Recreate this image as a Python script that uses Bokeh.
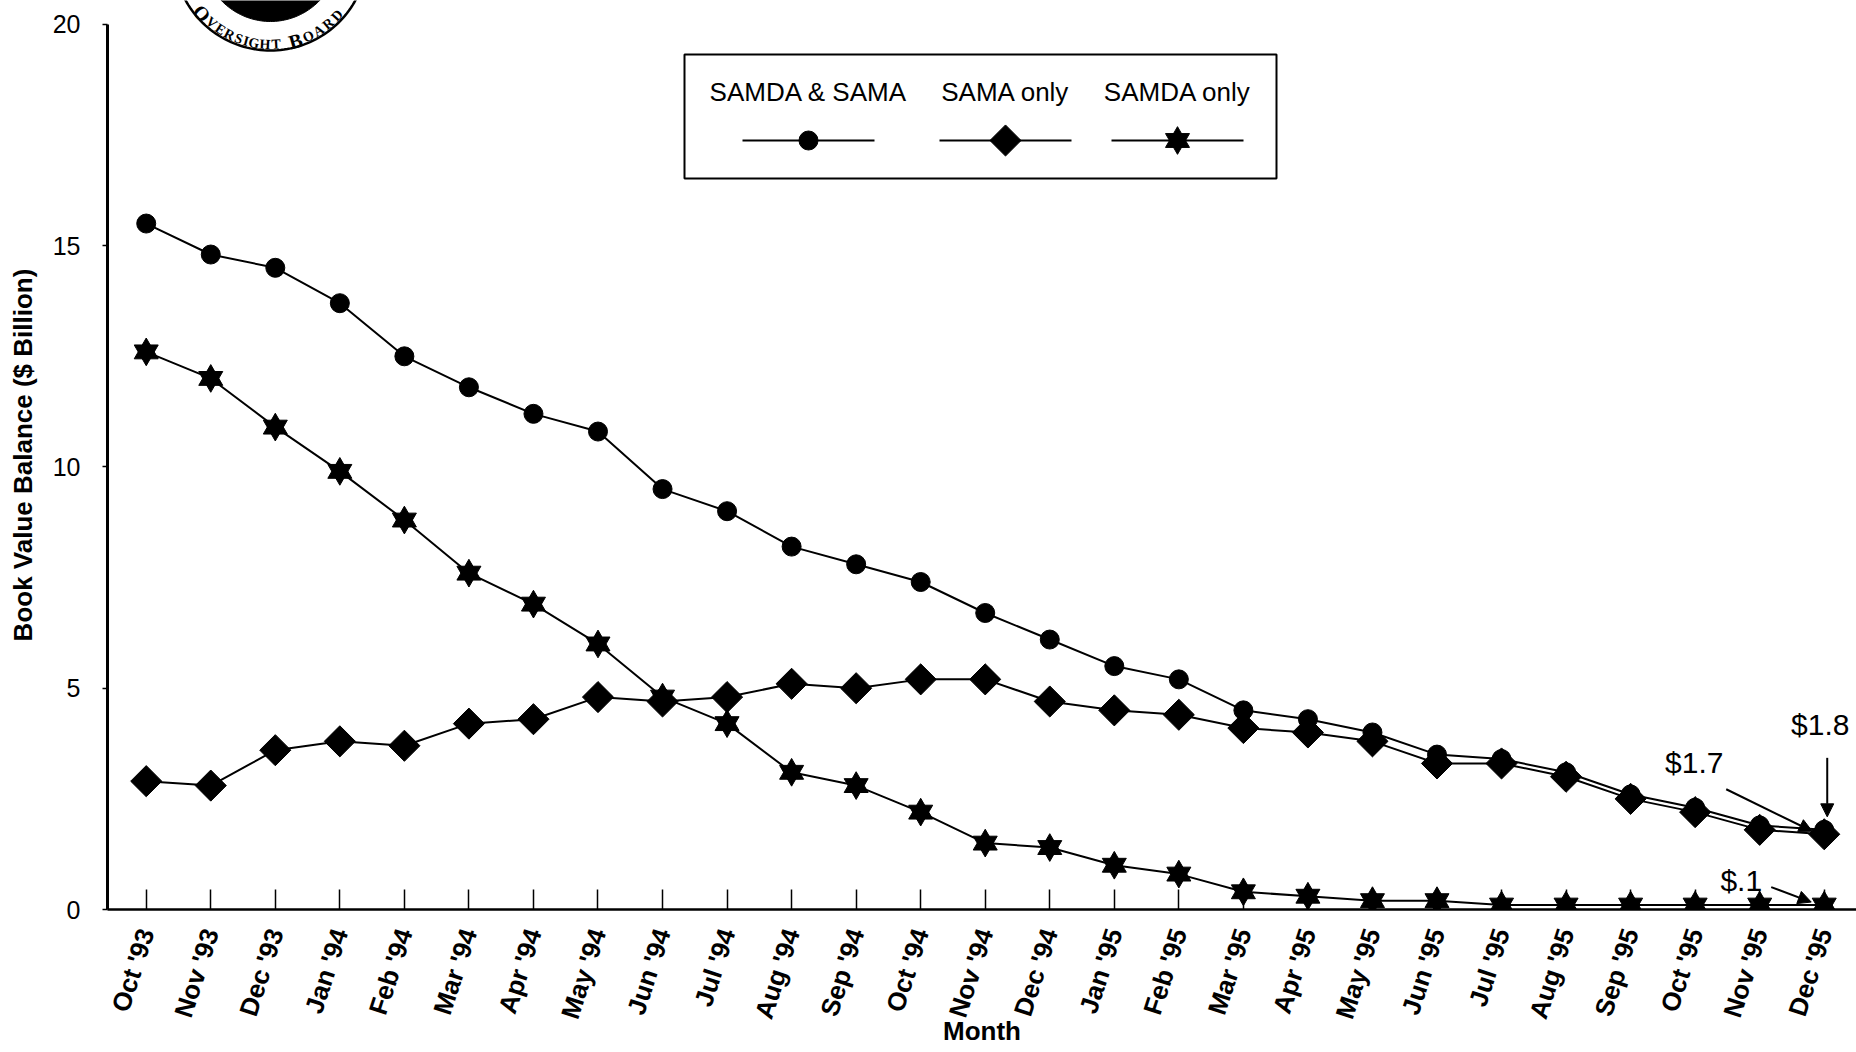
import math

from bokeh.core.properties import value
from bokeh.embed import file_html
from bokeh.models import Arrow, FixedTicker, NormalHead
from bokeh.plotting import figure
from bokeh.resources import INLINE

# ---- data -----------------------------------------------------------------
months = ["Oct '93", "Nov '93", "Dec '93", "Jan '94", "Feb '94", "Mar '94",
          "Apr '94", "May '94", "Jun '94", "Jul '94", "Aug '94", "Sep '94",
          "Oct '94", "Nov '94", "Dec '94", "Jan '95", "Feb '95", "Mar '95",
          "Apr '95", "May '95", "Jun '95", "Jul '95", "Aug '95", "Sep '95",
          "Oct '95", "Nov '95", "Dec '95"]

# Book value balance, $ billion
samda_and_sama = [15.5, 14.8, 14.5, 13.7, 12.5, 11.8, 11.2, 10.8, 9.5, 9.0,
                  8.2, 7.8, 7.4, 6.7, 6.1, 5.5, 5.2, 4.5, 4.3, 4.0,
                  3.5, 3.4, 3.1, 2.6, 2.3, 1.9, 1.8]
sama_only = [2.9, 2.8, 3.6, 3.8, 3.7, 4.2, 4.3, 4.8, 4.7, 4.8,
             5.1, 5.0, 5.2, 5.2, 4.7, 4.5, 4.4, 4.1, 4.0, 3.8,
             3.3, 3.3, 3.0, 2.5, 2.2, 1.8, 1.7]
samda_only = [12.6, 12.0, 10.9, 9.9, 8.8, 7.6, 6.9, 6.0, 4.8, 4.2,
              3.1, 2.8, 2.2, 1.5, 1.4, 1.0, 0.8, 0.4, 0.3, 0.2,
              0.2, 0.1, 0.1, 0.1, 0.1, 0.1, 0.1]

series_names = ["SAMDA & SAMA", "SAMA only", "SAMDA only"]
end_labels = ["$1.8", "$1.7", "$.1"]
y_ticks = [0, 5, 10, 15, 20]

x_idx = list(range(len(months)))

# ---- canvas geometry ------------------------------------------------------
W, H = 1856, 1052
FRAME_L, FRAME_B = 107, 909          # frame left edge / x-axis position (px)
X0, X1 = -0.6, 26.5
Y0, Y1 = 0.0, 20.54
PX_X = (W - FRAME_L) / (X1 - X0)
PX_Y = FRAME_B / (Y1 - Y0)


def gx(px):
    """canvas pixel column -> x data"""
    return X0 + (px - FRAME_L) / PX_X


def gy(py):
    """canvas pixel row -> y data"""
    return Y1 - py / PX_Y


FONT = value("Liberation Sans")

p = figure(width=W, height=H, x_range=(X0, X1), y_range=(Y0, Y1),
           output_backend="svg", toolbar_location=None,
           min_border_left=FRAME_L, min_border_right=0,
           min_border_top=0, min_border_bottom=H - FRAME_B)
p.outline_line_color = None
p.xgrid.visible = False
p.ygrid.visible = False
p.background_fill_color = "white"
p.border_fill_color = "white"

# ---- axes -----------------------------------------------------------------
xa = p.xaxis[0]
xa.ticker = FixedTicker(ticks=x_idx)
xa.major_label_overrides = {i: m for i, m in zip(x_idx, months)}
xa.major_label_orientation = math.radians(72)
xa.major_label_text_font = "Liberation Sans"
xa.major_label_text_font_style = "bold"
xa.major_label_text_font_size = "26px"
xa.major_label_text_color = "black"
xa.major_label_standoff = 20
xa.major_tick_in = 20
xa.major_tick_out = 0
xa.major_tick_line_width = 1.5
xa.major_tick_line_color = "black"
xa.minor_tick_line_color = None
xa.axis_line_width = 2.5
xa.axis_line_color = "black"
xa.axis_label = "Month"
xa.axis_label_text_font = "Liberation Sans"
xa.axis_label_text_font_style = "bold"
xa.axis_label_text_font_size = "26px"
xa.axis_label_text_color = "black"
xa.axis_label_standoff = -14

ya = p.yaxis[0]
ya.ticker = FixedTicker(ticks=y_ticks)
ya.bounds = (0, 20)
ya.major_label_text_font = "Liberation Sans"
ya.major_label_text_font_size = "25px"
ya.major_label_text_color = "black"
ya.major_label_standoff = 22
ya.major_tick_in = 0
ya.major_tick_out = 5
ya.major_tick_line_width = 1.5
ya.minor_tick_line_color = None
ya.axis_line_width = 3
ya.axis_line_color = "black"
ya.axis_label = "Book Value Balance ($ Billion)"
ya.axis_label_text_font = "Liberation Sans"
ya.axis_label_text_font_style = "bold"
ya.axis_label_text_font_size = "26px"
ya.axis_label_text_color = "black"
ya.axis_label_standoff = 12

# ---- series ---------------------------------------------------------------
LW = 2
p.line(x_idx, samda_and_sama, line_color="black", line_width=LW)
p.line(x_idx, sama_only, line_color="black", line_width=LW)
p.line(x_idx, samda_only, line_color="black", line_width=LW)

p.scatter(x_idx, samda_and_sama, marker="circle", size=19,
          fill_color="black", line_color="black")
p.scatter(x_idx, sama_only, marker="square", size=22, angle=math.pi / 4,
          fill_color="black", line_color="black")
# six-pointed star from two overlaid triangles
p.scatter(x_idx, samda_only, marker="triangle", size=24,
          fill_color="black", line_color="black")
p.scatter(x_idx, samda_only, marker="inverted_triangle", size=24,
          fill_color="black", line_color="black")

# ---- legend box -----------------------------------------------------------
p.quad(left=[gx(684)], right=[gx(1276)], top=[gy(54)], bottom=[gy(178)],
       fill_color=None, line_color="black", line_width=2)
leg_cx = [808, 1005, 1177]
p.text(x=[gx(c) for c in leg_cx], y=[gy(91)] * 3, text=series_names,
       text_font=FONT, text_font_size="26px", text_align="center",
       text_baseline="middle", text_color="black")
p.segment(x0=[gx(c - 66) for c in leg_cx], y0=[gy(140)] * 3,
          x1=[gx(c + 66) for c in leg_cx], y1=[gy(140)] * 3,
          line_color="black", line_width=2)
p.scatter([gx(leg_cx[0])], [gy(140)], marker="circle", size=19,
          fill_color="black", line_color="black")
p.scatter([gx(leg_cx[1])], [gy(140)], marker="square", size=22,
          angle=math.pi / 4, fill_color="black", line_color="black")
p.scatter([gx(leg_cx[2])], [gy(140)], marker="triangle", size=24,
          fill_color="black", line_color="black")
p.scatter([gx(leg_cx[2])], [gy(140)], marker="inverted_triangle", size=24,
          fill_color="black", line_color="black")

# ---- end-of-period callouts ----------------------------------------------
last = len(months) - 1
callout_series = [samda_and_sama, sama_only, samda_only]
# (text dx, dy, arrow start dx, dy, arrow end dx, dy) in pixels from the point
callout_offsets = [(-4, -105, 3, -72, 3, -13),
                   (-130, -72, -98, -45, -12, -3),
                   (-83, -25, -53, -18, -13, -3)]
for lab, ser, off in zip(end_labels, callout_series, callout_offsets):
    px = FRAME_L + (last - X0) * PX_X
    py = (Y1 - ser[last]) * PX_Y
    tdx, tdy, sdx, sdy, edx, edy = off
    p.text(x=[gx(px + tdx)], y=[gy(py + tdy)], text=[lab], text_font=FONT,
           text_font_size="30px", text_align="center", text_baseline="middle",
           text_color="black")
    p.add_layout(Arrow(x_start=gx(px + sdx), y_start=gy(py + sdy),
                       x_end=gx(px + edx), y_end=gy(py + edy),
                       line_color="black", line_width=2,
                       end=NormalHead(size=13, fill_color="black",
                                      line_color="black")))

# ---- seal in the top corner ----------------------------------------------
SEAL_CX, SEAL_CY = 270, -47
R_OUT, R_DISK, R_TEXT = 97, 68, 91
ring_t = [math.radians(a) for a in range(0, 361, 2)]
p.patch([gx(SEAL_CX + R_DISK * math.cos(t)) for t in ring_t],
        [gy(SEAL_CY + R_DISK * math.sin(t)) for t in ring_t],
        fill_color="black", line_color="black")
p.line([gx(SEAL_CX + R_OUT * math.cos(t)) for t in ring_t],
       [gy(SEAL_CY + R_OUT * math.sin(t)) for t in ring_t],
       line_color="black", line_width=2.5)

seal_letters = list("OVERSIGHT") + list("BOARD")
seal_angles = [-49, -40.5, -33.5, -27, -20.5, -15.5, -10.5, -3.5, 3.5,
               16, 24.5, 32, 39.5, 47]
seal_sizes = ["20px"] + ["14px"] * 8 + ["20px"] + ["14px"] * 4
p.text(x=[gx(SEAL_CX + R_TEXT * math.sin(math.radians(a))) for a in seal_angles],
       y=[gy(SEAL_CY + R_TEXT * math.cos(math.radians(a))) for a in seal_angles],
       text=seal_letters, angle=[math.radians(a) for a in seal_angles],
       text_font=value("Liberation Serif"), text_font_style="bold",
       text_font_size=seal_sizes, text_align="center",
       text_baseline="alphabetic", text_color="black")

open("out.html", "w").write(file_html(p, INLINE))
